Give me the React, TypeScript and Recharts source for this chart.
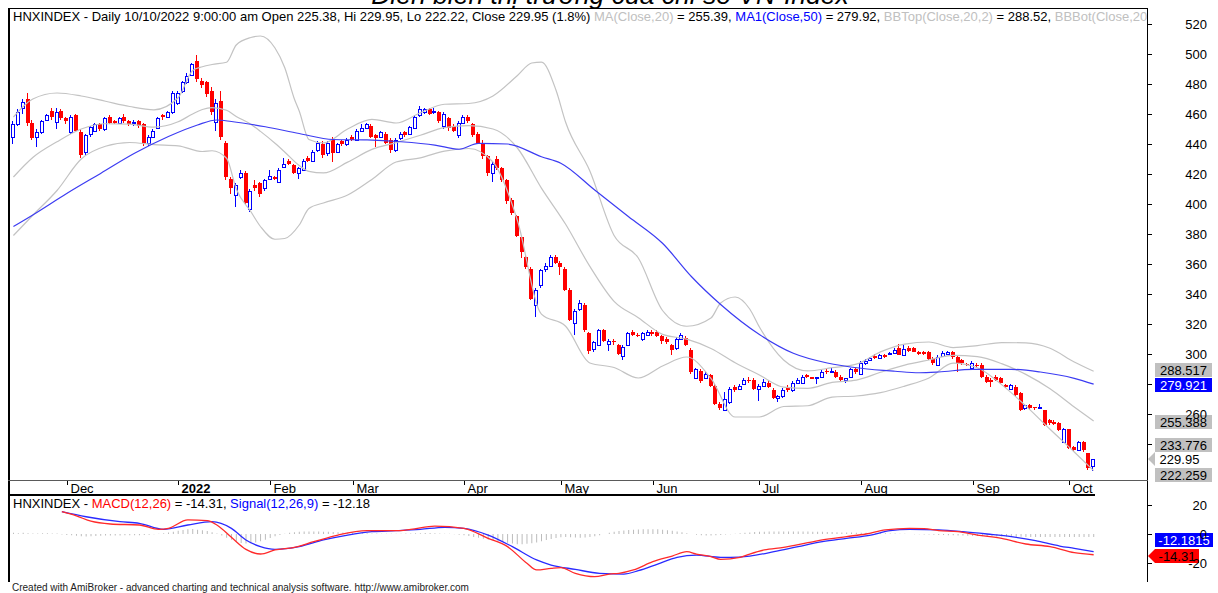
import React from 'react';
import { ComposedChart, Bar, Line, XAxis, YAxis, ReferenceLine } from 'recharts';

const FONT = '"Liberation Sans", Arial, Helvetica, sans-serif';
const RED = '#ff0000';
const BLUE = '#0000ff';
const BAND = '#c3c3c3';
const SLOTS = 234;

// HNX-Index daily bars, 16 Nov 2021 .. 10 Oct 2022
const openPx = [
  445, 453, 464, 470, 454, 445, 448, 456, 462, 455,
  462, 457, 448, 459, 448, 435, 447, 449, 453, 450,
  458, 455, 454, 458, 455, 454, 455, 453, 441, 445,
  451, 459, 458, 461, 467, 475, 481, 486, 495, 482,
  481, 475, 455, 469, 441, 417, 406, 418, 421, 397,
  413, 414, 411, 417, 418, 415, 425, 429, 426, 421,
  423, 431, 429, 436, 440, 434, 443, 435, 442, 440,
  445, 443, 449, 451, 452, 446, 445, 447, 443, 436,
  444, 448, 447, 451, 459, 461, 463, 461, 461, 452,
  457, 452, 446, 454, 458, 453, 447, 441, 432, 421,
  430, 424, 416, 403, 392, 378, 365, 357, 333, 346,
  357, 359, 365, 361, 357, 343, 321, 330, 333, 314,
  303, 306, 316, 307, 309, 306, 299, 306, 315, 313,
  310, 313, 315, 315, 312, 310, 306, 304, 310, 311,
  303, 284, 289, 284, 286, 279, 267, 263, 268, 278,
  277, 280, 283, 283, 277, 279, 281, 276, 271, 272,
  278, 276, 281, 281, 286, 284.5, 283.8, 285, 289, 288.5,
  288, 285, 282.7, 285, 290, 287, 294, 296, 299, 297.5,
  299.3, 300, 301, 303.8, 299.3, 303.8, 303.8, 301.5, 301.5, 301.5,
  297, 293, 299, 300, 301.5, 298, 296, 293.5, 290.5, 293,
  293, 285, 283, 285, 284, 279.3, 277, 278, 274, 264,
  266, 264.5, 264, 262.7, 256, 255, 254, 241.5, 249.8, 238.2,
  236, 241.5, 233.8, 225.38,
];
const highPx = [
  455, 463, 470, 474, 456, 450, 456, 460, 464, 464,
  463, 458, 459, 460, 450, 447, 452, 454, 454, 458,
  459, 456, 458, 460, 456, 456, 456, 454, 446, 450,
  458, 460, 462, 475, 475, 482, 487, 494, 499, 484,
  482, 478, 470, 475, 442, 418, 414, 423, 422, 410,
  416, 415, 417, 423, 419, 424, 431, 430, 427, 425,
  430, 432, 436, 442, 442, 442, 445, 441, 443, 444,
  446, 450, 453, 454, 453, 447, 449, 448, 444, 444,
  448, 449, 452, 459, 465, 464, 464, 464, 462, 461,
  458, 453, 455, 459, 459, 454, 448, 443, 433, 428,
  432, 425, 417, 404, 393, 379, 366, 358, 344, 357,
  361, 366, 366, 362, 358, 344, 330, 336, 334, 315,
  309, 317, 317, 310, 310, 307, 306, 315, 316, 314,
  315, 316, 316, 316, 313, 311, 307, 311, 314, 312,
  304, 291, 290, 288, 287, 280, 268, 275, 278, 279,
  280, 284, 285, 284, 280, 283, 282, 277, 273, 277,
  279, 282, 284, 286, 287, 285, 285, 289, 290, 291,
  289, 286, 284, 291, 291, 295, 296.5, 298, 300, 300,
  300, 301.5, 304, 306.7, 306, 305, 304.5, 302, 302, 302,
  298, 299, 302, 302, 302, 299, 297, 294, 295, 294,
  294, 286, 284, 286, 285, 280, 280, 279, 275, 267,
  267, 265, 266.5, 263, 257, 256, 255, 250.5, 250, 239,
  242, 242, 234, 229.95,
];
const lowPx = [
  440, 452, 460, 452, 443, 438, 447, 455, 456, 450,
  456, 453, 447, 448, 431, 433, 445, 448, 449, 449,
  453, 453, 453, 454, 452, 452, 451, 439, 439, 444,
  450, 456, 457, 460, 466, 474, 480, 485, 481, 477,
  471, 459, 449, 443, 416, 407, 398, 417, 400, 395,
  409, 405, 409, 416, 416, 414, 424, 426, 420, 417,
  422, 428, 428, 435, 431, 432, 428, 434, 439, 439,
  442, 442, 448, 450, 444, 438, 444, 440, 434, 435,
  443, 445, 446, 450, 458, 460, 459, 460, 454, 450,
  449, 448, 444, 453, 454, 445, 440, 430, 419, 415,
  423, 415, 400, 393, 378, 364, 357, 336, 325, 344,
  355, 358, 360, 353, 342, 322, 313, 329, 315, 300,
  301, 305, 308, 302, 306, 299, 296, 305, 312, 311,
  309, 312, 312, 311, 307, 307, 299, 303, 310, 305,
  287, 283, 281, 283, 278, 266, 263, 262, 267, 275,
  276, 279, 281, 276, 269, 278, 277, 270, 268, 271,
  275, 275, 280, 280, 284, 283, 280, 284, 287, 288,
  284, 282, 281, 284, 287, 286, 293, 295, 297, 297,
  297.5, 299.5, 300.5, 299, 298.5, 301.5, 301, 299.5, 299, 296,
  293, 292, 298, 299.5, 297, 288, 293, 292, 290, 291,
  284, 281, 278, 282, 280, 277, 276.5, 272, 262, 263,
  263, 263, 263.5, 252, 253, 253, 249, 241, 236.5, 235.5,
  235.5, 235, 222.5, 222.22,
];
const closePx = [
  453, 461, 468, 454, 444, 448, 455, 459, 458, 461,
  457, 455, 458, 449, 433, 446, 451, 453, 450, 457,
  454, 454, 457, 455, 453, 454.5, 452, 441, 445, 449,
  457, 458, 461, 474, 474, 481, 485, 493, 483, 479,
  473, 461, 467, 445, 418, 411, 413, 421, 401, 409,
  411, 407, 416, 419, 417, 423, 427, 427, 421, 424,
  429, 429, 435, 441, 433, 441, 434, 440, 440, 443,
  443, 449, 451, 453, 445, 444, 448, 441, 436, 443,
  447, 446, 451, 458, 463, 463, 460, 462, 455, 460,
  451, 449, 454, 458, 455, 446, 441, 432, 421, 427,
  424, 416, 402, 394, 379, 368, 358, 337, 343, 356,
  359, 365, 361, 358, 343, 323, 329, 334, 316, 302,
  308, 316, 309, 309, 308, 300, 305, 314, 313, 312,
  314, 315, 313.5, 312, 309, 308, 303, 310, 313, 306,
  288, 290, 282, 287, 279, 267, 264, 270, 277, 276,
  279, 283, 282, 277, 279, 281.5, 278, 271, 272, 276,
  276, 281, 283, 285, 285, 283.5, 284.4, 288, 288, 289,
  285, 283, 283.8, 290, 288, 294, 295.5, 297.5, 297.5, 299.5,
  298.2, 301, 303, 299.3, 303.1, 302.2, 301.5, 300.2, 300, 297,
  294, 298, 301, 301.5, 298, 294, 294, 292.5, 294, 292,
  285, 281.5, 281.5, 282.7, 280.5, 277.8, 279.5, 272.7, 262.7, 266,
  264, 263.8, 264.8, 252.7, 254, 253.5, 249.3, 249.8, 237.1, 236,
  241.5, 236, 223.8, 229.95,
];

const monthIdx = [11, 34, 53, 70, 93, 113, 132, 154, 175, 198, 218];
const monthLabels = ['Dec', '2022', 'Feb', 'Mar', 'Apr', 'May', 'Jun', 'Jul', 'Aug', 'Sep', 'Oct'];

// indicator lines, [bar index, value]
const ma50Pts = [
  [0, 385], [4, 392.7], [11, 407], [18, 420.4], [25, 433.8], [32, 445], [38, 452.7], [42, 456],
  [45, 455], [52, 451.5], [59, 447], [66, 443], [73, 442.7], [80, 441.5], [87, 439.3], [92, 436.5],
  [96, 440.4], [102, 440], [109, 431.5], [113, 427.2], [120, 409.3], [127, 391.5], [134, 373.8],
  [140, 351.5], [146, 333], [154, 313], [161, 300.5], [168, 294], [175, 290.5], [182, 288.5],
  [187, 287.5], [191, 288], [198, 289.8], [206, 289.8], [212, 288], [219, 283.8], [223, 279.92],
];
const ma20Pts = [
  [0, 418], [4, 431], [9, 441.5], [14, 450], [19, 453.5], [24, 453.2], [29, 451.2], [34, 454.8],
  [37, 460], [39, 463], [41, 464.3], [44, 462.5], [46, 458.4], [49, 453.2], [51, 448.4], [54, 440.5],
  [56, 434.7], [59, 425.6], [61, 421.8], [64, 420.7], [69, 427.9], [74, 436.4], [79, 440.9],
  [84, 445.8], [89, 450.9], [94, 452.2], [99, 450], [104, 437.5], [109, 410.6], [114, 386.5],
  [119, 358.4], [124, 335.1], [129, 324.2], [134, 313.1], [139, 309.9], [144, 303.7], [149, 294.2],
  [154, 286], [159, 277.9], [164, 277.1], [169, 281.1], [174, 282.6], [179, 287.8], [184, 292.6],
  [189, 296], [194, 299.1], [199, 298.2], [204, 293.6], [209, 286.4], [214, 276.8], [219, 264.7],
  [223, 255.39],
];
const bbTopPts = [
  [0, 458], [4, 470], [9, 474], [14, 472], [19, 468.5], [24, 465], [29, 462.8], [34, 470.8],
  [37, 489], [39, 491.5], [41, 493], [44, 494.5], [46, 506], [49, 511], [51, 512], [54, 504],
  [56, 491], [58, 470], [59, 462], [61, 443], [64, 440.7], [69, 450], [74, 456.4], [79, 454],
  [84, 460.8], [89, 466.5], [94, 467], [99, 472], [104, 485.5], [107, 494], [109, 494.6], [112, 476],
  [114, 454.5], [119, 422], [124, 379], [129, 364], [134, 329], [139, 318.5], [144, 324], [146, 334],
  [149, 338], [152, 330], [154, 318], [159, 296], [164, 288.7], [169, 290.9], [174, 293.2],
  [179, 301.4], [184, 306.6], [189, 308], [194, 304.3], [199, 305.6], [204, 307.6], [209, 307.4],
  [214, 303.8], [219, 294.7], [223, 288.52],
];
const bbBotPts = [
  [0, 379], [4, 392.5], [9, 409], [14, 430], [19, 438.5], [24, 441], [29, 439.6], [34, 438.8],
  [39, 435], [41, 435.5], [44, 430.5], [46, 410], [49, 395], [51, 385], [54, 376.5], [56, 377],
  [59, 386], [61, 397], [64, 400.7], [69, 406], [74, 416.4], [79, 428], [84, 430.8], [89, 435.3],
  [94, 437], [99, 428], [104, 389.5], [109, 326.6], [114, 318.5], [119, 294], [124, 291], [129, 284],
  [134, 292], [139, 298], [144, 283.7], [149, 258], [154, 258], [159, 265], [164, 265.5],
  [169, 271.3], [174, 272], [179, 274.2], [184, 278.6], [189, 284], [194, 293.9], [199, 290.8],
  [204, 279.6], [209, 265.4], [214, 249.8], [219, 234.7], [223, 222.26],
];

const macdPts = [
  [10, 15.4], [13, 12.5], [16, 8.8], [20, 6.9], [26, 6.2], [30, 3.2], [32, 3.9], [36, 9.7],
  [40, 9.2], [42, 6.2], [45, -2.3], [48, -10.6], [51, -13.8], [54, -11], [58, -9.2], [62, -5.3],
  [67, -0.7], [73, 2.3], [79, 2.3], [82, 3.2], [87, 5.5], [93, 3.9], [98, -3], [102, -8.7],
  [106, -20.2], [108, -24.8], [111, -23.7], [113, -23.2], [116, -27.1], [120, -29.4], [123, -27.6],
  [125, -27.1], [128, -24.8], [132, -19.1], [136, -15.2], [139, -12.2], [141, -13.8], [144, -15.6],
  [146, -17.5], [150, -16.1], [152, -13.8], [155, -11], [159, -9.2], [164, -6], [167, -4.1],
  [172, -1.8], [176, 0], [180, 2.8], [185, 3.9], [188, 3.7], [191, 2.3], [195, 1.6], [199, -0.7],
  [204, -3], [209, -6.9], [214, -8.7], [219, -12.9], [223, -14.31],
];
const signalPts = [
  [10, 15.4], [15, 11.9], [22, 8.5], [26, 7.4], [31, 3.2], [36, 6.2], [41, 8.5], [45, 3.9],
  [48, -4.1], [51, -8.7], [54, -10.6], [59, -8.7], [64, -4.1], [69, -0.7], [74, 1.6], [79, 2.3],
  [84, 3.2], [89, 4.6], [93, 3.9], [98, -0.7], [103, -8.7], [108, -17.9], [111, -21.4], [116, -24.4],
  [121, -27.1], [126, -27.6], [129, -25.3], [133, -20.7], [137, -16.1], [141, -14.5], [146, -16.1],
  [148, -16.1], [152, -15.2], [157, -12.2], [162, -8.7], [167, -5.3], [172, -3], [177, -0.7],
  [181, 2.3], [185, 3.2], [191, 2.8], [196, 1.6], [201, 0], [206, -1.8], [211, -4.6], [216, -8.3],
  [219, -9.9], [223, -12.18],
];
const histVals = [
  0.8, 0.6, 0.8, 0.5, 0.3, 0.4, 0.6, 0.5, 0.4, 0.3,
  -0.3, -0.6, -0.9, -1.2, -1.5, -1.8, -1.6, -1.4, -1.2, -1.0,
  -1.1, -1.0, -1.0, -0.9, -0.9, -0.8, -0.8, -0.7, -0.5, -0.2,
  0.2, 0.6, 1.0, 1.6, 2.2, 2.8, 3.2, 3.4, 3.0, 2.6,
  2.0, 1.2, 0.3, -1.0, -2.5, -4.0, -5.2, -6.2, -6.5, -6.3,
  -5.8, -5.0, -4.0, -2.8, -1.6, -0.6, 0.2, 0.8, 1.2, 1.5,
  1.7, 1.8, 1.8, 1.7, 1.6, 1.5, 1.4, 1.2, 1.0, 0.9,
  0.8, 0.7, 0.6, 0.5, 0.4, 0.3, 0.2, 0.2, 0.1, 0.1,
  0.2, 0.3, 0.4, 0.5, 0.6, 0.7, 0.7, 0.6, 0.4, 0.2,
  0.1, -0.2, -0.5, -0.9, -1.4, -2.0, -2.6, -3.2, -3.8, -4.5,
  -5.0, -5.5, -6.0, -6.5, -7.0, -7.0, -6.8, -6.4, -5.8, -5.0,
  -4.2, -3.5, -2.8, -2.2, -2.0, -2.2, -2.4, -2.5, -2.4, -2.0,
  -1.5, -0.8, 0.0, 0.8, 1.5, 2.0, 2.5, 2.8, 3.0, 3.1,
  3.2, 3.3, 3.3, 3.2, 3.0, 2.6, 2.2, 1.8, 1.2, 0.6,
  0.0, -0.5, -0.8, -1.0, -1.0, -0.9, -0.7, -0.4, -0.1, 0.2,
  0.5, 0.8, 1.1, 1.3, 1.5, 1.6, 1.7, 1.8, 1.8, 1.8,
  1.8, 1.8, 1.8, 1.7, 1.7, 1.6, 1.6, 1.5, 1.4, 1.3,
  1.2, 1.1, 1.0, 1.0, 0.9, 0.8, 0.8, 0.7, 0.6, 0.5,
  0.5, 0.4, 0.3, 0.2, 0.1, 0.0, -0.1, -0.2, -0.3, -0.4,
  -0.5, -0.6, -0.7, -0.8, -0.9, -1.0, -1.1, -1.2, -1.3, -1.4,
  -1.5, -1.6, -1.6, -1.7, -1.7, -1.8, -1.8, -1.9, -1.9, -2.0,
  -2.0, -2.0, -2.1, -2.1, -2.1, -2.1, -2.1, -2.1, -2.1, -2.1,
  -2.1, -2.1, -2.1, -2.1,
];

const priceTicks = [240, 260, 280, 300, 320, 340, 360, 380, 400, 420, 440, 460, 480, 500, 520];
const coveredTicks = [240, 280];
const macdTicks = [-20, 0, 20];

const tagVals = [288.517, 279.921, 255.388, 233.776, 229.95, 222.259];
const tagText = ['288.517', '279.921', '255.388', '233.776', '229.95', '222.259'];
const tagKind = ['grey', 'blue', 'grey', 'grey', 'arrowWhite', 'grey'];
const tagShift = [-1, 1, 1.5, -8.3, 0.4, 4.4];
const tagWidth = [57, 57, 57, 57, 49, 57];

const macdTagVals = [-12.1815, -14.31];
const macdTagText = ['-12.1815', '-14.31'];
const macdTagKind = ['blue', 'arrowRed'];
const macdTagShift = [-11.7, 1.3];
const macdTagWidth = [58, 44];

const priceRows: any[] = Array.from({ length: SLOTS }, (_, i) => {
  const has = i < closePx.length;
  return {
    i,
    range: has ? [lowPx[i], highPx[i]] : null,
    o: has ? openPx[i] : null,
    h: has ? highPx[i] : null,
    l: has ? lowPx[i] : null,
    c: has ? closePx[i] : null,
    ma50: null, ma20: null, bbTop: null, bbBot: null,
  };
});
ma50Pts.forEach(([i, v]) => { priceRows[i].ma50 = v; });
ma20Pts.forEach(([i, v]) => { priceRows[i].ma20 = v; });
bbTopPts.forEach(([i, v]) => { priceRows[i].bbTop = v; });
bbBotPts.forEach(([i, v]) => { priceRows[i].bbBot = v; });

const macdRows: any[] = Array.from({ length: SLOTS }, (_, i) => ({
  i,
  hist: i < histVals.length ? histVals[i] : null,
  macd: null,
  signal: null,
}));
macdPts.forEach(([i, v]) => { macdRows[i].macd = v; });
signalPts.forEach(([i, v]) => { macdRows[i].signal = v; });

function Candle(props: any) {
  const { x, y, width, height, payload } = props;
  if (!payload || payload.o == null) return null;
  const { o, h, l, c } = payload;
  const top = Math.min(y, y + height);
  const span = Math.abs(height);
  const py = (v: number) => (h === l ? top : top + ((h - v) / (h - l)) * span);
  const base = Math.round(x + width / 2) - 2;
  const wx = base + 1.5;
  const yh = Math.round(py(h));
  const yl = Math.round(py(l));
  const bt = Math.round(py(Math.max(o, c)));
  const bb = Math.round(py(Math.min(o, c)));
  if (c >= o) {
    return (
      <g>
        <line x1={wx} x2={wx} y1={yh} y2={bt} stroke={BLUE} />
        <line x1={wx} x2={wx} y1={bb} y2={yl} stroke={BLUE} />
        <rect x={base + 0.5} y={bt + 0.5} width={3} height={Math.max(bb - bt, 1)} fill="#fff" stroke={BLUE} />
      </g>
    );
  }
  return (
    <g>
      <line x1={wx} x2={wx} y1={yh} y2={yl} stroke={RED} />
      <rect x={base} y={bt} width={4} height={Math.max(bb - bt, 1)} fill={RED} />
    </g>
  );
}

function DateTick(props: any) {
  const { x, y, payload } = props;
  const k = monthIdx.indexOf(payload.value);
  if (k < 0) return null;
  const tx = Math.round(x) + 0.5;
  return (
    <g>
      <line x1={tx} x2={tx} y1={y + 1} y2={y + 5} stroke="#000" />
      <text x={tx + 3} y={y + 12.5} fontSize={13} fontFamily={FONT} fill="#000"
        fontWeight={monthLabels[k] === '2022' ? 'bold' : 'normal'}>
        {monthLabels[k]}
      </text>
    </g>
  );
}

function PriceTick(props: any) {
  const { x, y, payload } = props;
  const ty = Math.round(y) + 0.5;
  return (
    <g>
      <line x1={x} x2={x + 5} y1={ty} y2={ty} stroke="#000" />
      {coveredTicks.includes(payload.value) ? null : (
        <text x={x + 60} y={y + 4.5} textAnchor="end" fontSize={13} fontFamily={FONT} fill="#000">
          {payload.value}
        </text>
      )}
    </g>
  );
}

function Tag(props: any) {
  const { viewBox, txt, kind, shift, w } = props;
  if (!viewBox) return null;
  const ax = viewBox.x + viewBox.width;
  const cy = viewBox.y + shift;
  const top = Math.round(cy - 7);
  const bx = ax + 8;
  const mid = top + 7;
  let shape = null;
  let textFill = '#000';
  if (kind === 'grey') {
    shape = <rect x={bx} y={top} width={w} height={14} fill="#c0c0c0" />;
  } else if (kind === 'blue') {
    shape = <rect x={bx} y={top} width={w} height={14} fill={BLUE} />;
    textFill = '#fff';
  } else if (kind === 'arrowWhite') {
    shape = (
      <g>
        <polygon points={`${ax + 1},${mid} ${bx},${top} ${bx},${top + 14}`} fill="#c0c0c0" />
        <rect x={bx} y={top} width={w} height={14} fill="#fff" />
      </g>
    );
  } else {
    shape = (
      <polygon
        points={`${ax + 1},${mid} ${bx},${top} ${bx + w},${top} ${bx + w},${top + 14} ${bx},${top + 14}`}
        fill={RED}
      />
    );
  }
  return (
    <g>
      {shape}
      <text x={bx + w / 2} y={mid + 4.5} textAnchor="middle" fontSize={13} fontFamily={FONT} fill={textFill}>
        {txt}
      </text>
    </g>
  );
}

const grey = { color: '#c0c0c0' };

export default function App() {
  return (
    <div style={{ position: 'absolute', left: 0, top: 0, width: 1218, height: 593, background: '#fff', overflow: 'hidden', fontFamily: FONT }}>
      <svg width={1218} height={14} style={{ position: 'absolute', left: 0, top: 0 }}>
        <text x={610} y={4} textAnchor="middle" fontStyle="italic" fontSize={26.5} fontFamily={FONT} fill="#000">
          Diễn biến thị trường của chỉ số VN-Index
        </text>
      </svg>

      <div style={{ position: 'absolute', left: 0, top: 0 }}>
        <ComposedChart width={1218} height={495} data={priceRows} margin={{ top: 9, right: 0, bottom: 0, left: 11 }}>
          <XAxis dataKey="i" type="category" ticks={monthIdx} interval={0} height={15}
            axisLine={false} tickLine={false} tickSize={0} tickMargin={0}
            tick={DateTick} padding={{ left: 0, right: 2.5 }} />
          <YAxis orientation="right" width={71} type="number" domain={[216, 530]} allowDataOverflow
            ticks={priceTicks} interval={0} axisLine={false} tickLine={false} tickSize={0} tickMargin={0}
            tick={PriceTick} />
          <Line dataKey="bbTop" type="monotone" stroke={BAND} strokeWidth={1.2} dot={false} activeDot={false} connectNulls isAnimationActive={false} />
          <Line dataKey="bbBot" type="monotone" stroke={BAND} strokeWidth={1.2} dot={false} activeDot={false} connectNulls isAnimationActive={false} />
          <Line dataKey="ma20" type="monotone" stroke={BAND} strokeWidth={1.2} dot={false} activeDot={false} connectNulls isAnimationActive={false} />
          <Line dataKey="ma50" type="monotone" stroke="#3c3cf2" strokeWidth={1.2} dot={false} activeDot={false} connectNulls isAnimationActive={false} />
          <Bar dataKey="range" barSize={4} shape={Candle} isAnimationActive={false} />
          {tagVals.map((v, k) => (
            <ReferenceLine key={k} y={v} stroke="none" ifOverflow="visible"
              label={<Tag txt={tagText[k]} kind={tagKind[k]} shift={tagShift[k]} w={tagWidth[k]} />} />
          ))}
        </ComposedChart>
      </div>

      <div style={{ position: 'absolute', left: 0, top: 495 }}>
        <ComposedChart width={1218} height={87} data={macdRows} margin={{ top: 0, right: 0, bottom: 0, left: 11 }}>
          <XAxis dataKey="i" type="category" hide padding={{ left: 0, right: 2.5 }} />
          <YAxis orientation="right" width={71} type="number" domain={[-33.1, 26.9]} allowDataOverflow
            ticks={macdTicks} interval={0} axisLine={false} tickLine={false} tickSize={0} tickMargin={0}
            tick={PriceTick} />
          <Bar dataKey="hist" barSize={1} fill="#bcbcbc" isAnimationActive={false} />
          <Line dataKey="signal" type="monotone" stroke="#2a2aff" strokeWidth={1.3} dot={false} activeDot={false} connectNulls isAnimationActive={false} />
          <Line dataKey="macd" type="monotone" stroke="#ff2a2a" strokeWidth={1.3} dot={false} activeDot={false} connectNulls isAnimationActive={false} />
          {macdTagVals.map((v, k) => (
            <ReferenceLine key={k} y={v} stroke="none" ifOverflow="visible"
              label={<Tag txt={macdTagText[k]} kind={macdTagKind[k]} shift={macdTagShift[k]} w={macdTagWidth[k]} />} />
          ))}
        </ComposedChart>
      </div>

      {/* panel frame */}
      <div style={{ position: 'absolute', left: 8, top: 8, width: 1140, height: 1, background: '#000' }} />
      <div style={{ position: 'absolute', left: 8, top: 8, width: 2, height: 574, background: '#000' }} />
      <div style={{ position: 'absolute', left: 1147, top: 8, width: 1, height: 574, background: '#000' }} />
      <div style={{ position: 'absolute', left: 8, top: 480, width: 1140, height: 1, background: '#5a5a5a' }} />
      <div style={{ position: 'absolute', left: 8, top: 494, width: 1087, height: 2, background: '#000' }} />

      <div style={{ position: 'absolute', left: 13, top: 9, width: 1134, overflow: 'hidden', whiteSpace: 'pre', fontSize: 13, lineHeight: '15px', color: '#000' }}>
        {'HNXINDEX - Daily 10/10/2022 9:00:00 am Open 225.38, Hi 229.95, Lo 222.22, Close 229.95 (1.8%) '}
        <span style={grey}>MA(Close,20)</span>{' = 255.39, '}
        <span style={{ color: BLUE }}>MA1(Close,50)</span>{' = 279.92, '}
        <span style={grey}>BBTop(Close,20,2)</span>{' = 288.52, '}
        <span style={grey}>BBBot(Close,20,2)</span>{' = 222.26'}
      </div>

      <div style={{ position: 'absolute', left: 13, top: 496, whiteSpace: 'pre', fontSize: 13, lineHeight: '15px', color: '#000' }}>
        {'HNXINDEX - '}
        <span style={{ color: RED }}>MACD(12,26)</span>{' = -14.31, '}
        <span style={{ color: BLUE }}>Signal(12,26,9)</span>{' = -12.18'}
      </div>

      <div style={{ position: 'absolute', left: 12, top: 582, whiteSpace: 'pre', fontSize: 10, lineHeight: '12px', color: '#222' }}>
        Created with AmiBroker - advanced charting and technical analysis software. http://www.amibroker.com
      </div>
    </div>
  );
}
